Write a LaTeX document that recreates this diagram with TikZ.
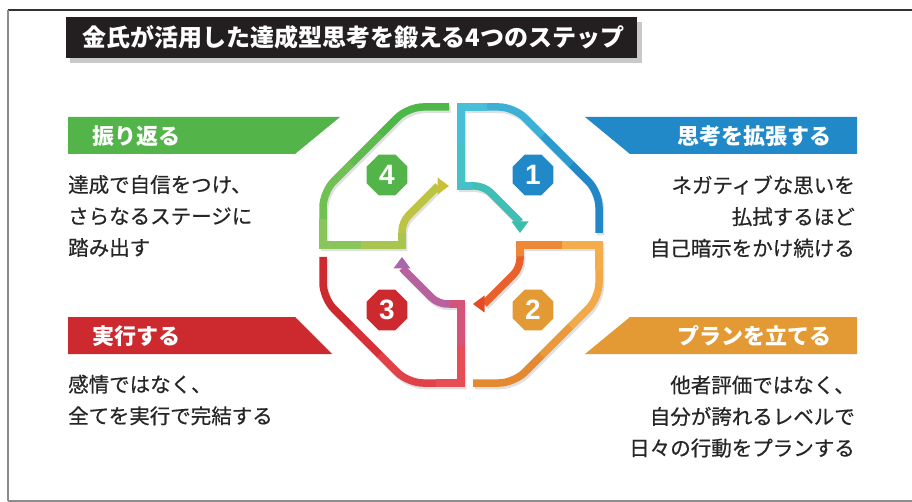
\documentclass[tikz,border=0pt]{standalone}
\usepackage{fontspec}
\newfontfamily\jp{Noto Sans CJK JP}
\newfontfamily\jpm[FakeBold=0.5]{Noto Sans CJK JP}
\newfontfamily\numfont{Liberation Sans}
\usetikzlibrary{shapes.geometric}
\definecolor{txt}{HTML}{262626}
\definecolor{titlebg}{HTML}{231F20}
\definecolor{gbar}{HTML}{53B549}
\definecolor{bbar}{HTML}{2289C8}
\definecolor{rbar}{HTML}{CC2A2E}
\definecolor{obar}{HTML}{E39A35}
% quadrant 1 (blue -> teal)
\definecolor{qA1}{HTML}{2287C7}\definecolor{qA2}{HTML}{2D9ACE}\definecolor{qA3}{HTML}{3CB0D5}
\definecolor{qA4}{HTML}{48BFD6}\definecolor{qA5}{HTML}{46C1C8}\definecolor{qA6}{HTML}{40BFB6}\definecolor{qA7}{HTML}{3BBFAB}
% quadrant 2 (orange)
\definecolor{qB1}{HTML}{E3892F}\definecolor{qB2}{HTML}{EA9A3B}\definecolor{qB3}{HTML}{F2A947}
\definecolor{qB4}{HTML}{F5AD4B}\definecolor{qB5}{HTML}{EE8836}\definecolor{qB6}{HTML}{E8602A}\definecolor{qB7}{HTML}{E54A27}
% quadrant 3 (red -> purple)
\definecolor{qC1}{HTML}{CC2A2E}\definecolor{qC2}{HTML}{D63039}\definecolor{qC3}{HTML}{E0424A}
\definecolor{qC4}{HTML}{E74D54}\definecolor{qC5}{HTML}{D4557A}\definecolor{qC6}{HTML}{B9609E}\definecolor{qC7}{HTML}{A866AB}
% quadrant 4 (green -> yellow)
\definecolor{qD1}{HTML}{4DB748}\definecolor{qD2}{HTML}{5FBB4E}\definecolor{qD3}{HTML}{70C053}
\definecolor{qD4}{HTML}{88C55A}\definecolor{qD5}{HTML}{A8C54D}\definecolor{qD6}{HTML}{BDC343}\definecolor{qD7}{HTML}{CBBF3A}

\newcommand\qpieces[7]{%
  \draw[qline, rounded corners=15pt, draw=#1] (138,-12) -- (138,-53) -- (110,-81);
  \draw[qline, draw=#2] (110.5,-80.5) -- (81,-110);
  \draw[qline, rounded corners=15pt, draw=#3] (81.5,-109.5) -- (53,-138) -- (25,-138);
  \draw[qline, draw=#4] (25.5,-138) -- (0,-138) -- (0,-100);
  \draw[qline, draw=#5] (0,-100.5) -- (0,-59) -- (12,-59);
  \draw[qline, rounded corners=9pt, draw=#6] (11.5,-59) -- (23,-59) -- (59,-23);
  \fill[#7] (50.5,-23.5) -- (67.5,-23.5) -- (59,-12) -- cycle;
}
\newcommand\qshadow{%
  \draw[qline, draw=black, opacity=.12, rounded corners=15pt] (138,-12) -- (138,-53) -- (53,-138)
    [sharp corners] -- (0,-138) -- (0,-59) [rounded corners=9pt] -- (23,-59) -- (59,-23);
}

\begin{document}
\begin{tikzpicture}[x=1pt,y=-1pt,
  qline/.style={line width=7.5pt, line cap=butt, line join=miter},
  badge/.style={regular polygon, regular polygon sides=8, minimum size=44pt, inner sep=0pt,
    text=white, font=\numfont\bfseries\fontsize{28}{28}\selectfont},
  bantext/.style={text=white, inner sep=0pt, font=\jp\bfseries\fontsize{22}{22}\selectfont},
  bodytext/.style={text=txt, inner sep=0pt, font=\jpm\fontsize{20.5}{31.5}\selectfont},
]
\useasboundingbox (0,0) rectangle (912,502);
\fill[white] (0,0) rectangle (912,502);

% frame
\draw[line width=1.2pt, draw=black!80] (8,10) -- (912,10);
\draw[line width=1.5pt, draw=black!45] (8,10) -- (8,501);
\draw[line width=1.5pt, draw=black!45] (8,501) -- (912,501);

% title
\fill[black!35, opacity=.6] (70,22) rectangle (642,63);
\fill[titlebg] (66,17) rectangle (637,58);
\node[anchor=west, text=white, inner sep=0pt, font=\jp\bfseries\fontsize{24}{24}\selectfont]
  (title) at (82,37.5) {金氏が活用した達成型思考を鍛える4つのステップ};

% shadows of the cycle
\begin{scope}[shift={(462.5,247.5)}] \qshadow \end{scope}
\begin{scope}[shift={(462.5,247.5)}, rotate=-90] \qshadow \end{scope}
\begin{scope}[shift={(462.5,247.5)}, rotate=-180] \qshadow \end{scope}
\begin{scope}[shift={(462.5,247.5)}, rotate=-270] \qshadow \end{scope}

% cycle quadrants
\begin{scope}[shift={(461,245)}] \qpieces{qA1}{qA2}{qA3}{qA4}{qA5}{qA6}{qA7} \end{scope}
\begin{scope}[shift={(461,245)}, rotate=-90] \qpieces{qB1}{qB2}{qB3}{qB4}{qB5}{qB6}{qB7} \end{scope}
\begin{scope}[shift={(461,245)}, rotate=-180] \qpieces{qC1}{qC2}{qC3}{qC4}{qC5}{qC6}{qC7} \end{scope}
\begin{scope}[shift={(461,245)}, rotate=-270] \qpieces{qD1}{qD2}{qD3}{qD4}{qD5}{qD6}{qD7} \end{scope}

% badges
\node[badge, fill=bbar] (n1) at (533,175) {1};
\node[badge, fill=obar] (n2) at (533,310) {2};
\node[badge, fill=rbar] (n3) at (387,310) {3};
\node[badge, fill=gbar] (n4) at (387,175) {4};

% step 4 (green)
\fill[gbar] (68,117) -- (340,117) -- (295,154) -- (68,154) -- cycle;
\node[bantext, anchor=west] (t4) at (92,136) {振り返る};
\node[bodytext, anchor=west, align=left] (b4) at (68,216) {達成で自信をつけ、\\さらなるステージに\\踏み出す};

% step 1 (blue)
\fill[bbar] (585,117) -- (857,117) -- (857,154) -- (630,154) -- cycle;
\node[bantext, anchor=east] (t1) at (832,136) {思考を拡張する};
\node[bodytext, anchor=east, align=right] (b1) at (855,216.5) {ネガティブな思いを\\払拭するほど\\自己暗示をかけ続ける};

% step 3 (red)
\fill[rbar] (68,317) -- (295,317) -- (332,354) -- (68,354) -- cycle;
\node[bantext, anchor=west] (t3) at (92,336) {実行する};
\node[bodytext, anchor=west, align=left] (b3) at (68,400) {感情ではなく、\\全てを実行で完結する};

% step 2 (orange)
\fill[obar] (630,317) -- (857,317) -- (857,354) -- (585,354) -- cycle;
\node[bantext, anchor=east] (t2) at (832,336) {プランを立てる};
\node[bodytext, anchor=east, align=right] (b2) at (855,416.5) {他者評価ではなく、\\自分が誇れるレベルで\\日々の行動をプランする};
\end{tikzpicture}
\end{document}
